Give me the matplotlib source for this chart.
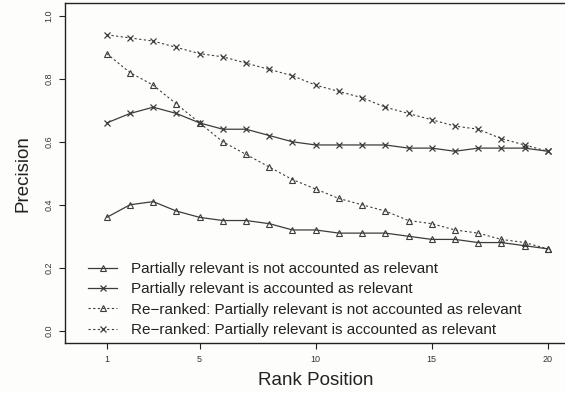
import matplotlib
matplotlib.use('Agg')
import matplotlib.pyplot as plt

plt.rcParams['font.family'] = ['Liberation Sans', 'DejaVu Sans']

# Precision at each rank position (1..20)
rank = list(range(1, 21))
not_acc = [0.36, 0.40, 0.41, 0.38, 0.36, 0.35, 0.35, 0.34, 0.32, 0.32,
           0.31, 0.31, 0.31, 0.30, 0.29, 0.29, 0.28, 0.28, 0.27, 0.26]
acc = [0.66, 0.69, 0.71, 0.69, 0.66, 0.64, 0.64, 0.62, 0.60, 0.59,
       0.59, 0.59, 0.59, 0.58, 0.58, 0.57, 0.58, 0.58, 0.58, 0.57]
rr_not_acc = [0.88, 0.82, 0.78, 0.72, 0.66, 0.60, 0.56, 0.52, 0.48, 0.45,
              0.42, 0.40, 0.38, 0.35, 0.34, 0.32, 0.31, 0.29, 0.28, 0.26]
rr_acc = [0.94, 0.93, 0.92, 0.90, 0.88, 0.87, 0.85, 0.83, 0.81, 0.78,
          0.76, 0.74, 0.71, 0.69, 0.67, 0.65, 0.64, 0.61, 0.59, 0.57]

labels = ['Partially relevant is not accounted as relevant',
          'Partially relevant is accounted as relevant',
          'Re\u2212ranked: Partially relevant is not accounted as relevant',
          'Re\u2212ranked: Partially relevant is accounted as relevant']
xticks = [1, 5, 10, 15, 20]
yticks = [0.0, 0.2, 0.4, 0.6, 0.8, 1.0]

col = '#3c3c3c'
fig = plt.figure(figsize=(5.65, 3.93), dpi=100, facecolor='#fdfefc')
ax = fig.add_axes([65 / 565, 1 - 343.3 / 393, (566.4 - 65) / 565, 340 / 393])
ax.set_facecolor('#fdfefc')

dash = (0, (2.0, 2.2))
ax.plot(rank, not_acc, color=col, lw=0.9, marker='^', ms=5, mfc='none', mec=col, mew=0.8, label=labels[0])
ax.plot(rank, acc, color=col, lw=0.9, marker='x', ms=4.5, mec=col, mew=0.9, label=labels[1])
ax.plot(rank, rr_not_acc, color=col, lw=0.8, ls=dash, marker='^', ms=5, mfc='none', mec=col, mew=0.8, label=labels[2])
ax.plot(rank, rr_acc, color=col, lw=0.8, ls=dash, marker='x', ms=4.5, mec=col, mew=0.9, label=labels[3])

ax.set_xlim(-0.8, 20.8)
ax.set_ylim(-0.04, 1.04)
ax.set_xticks(xticks)
ax.set_xticklabels([str(t) for t in xticks])
ax.set_yticks(yticks)
ax.set_yticklabels(['%.1f' % t for t in yticks], rotation=90, va='center')
ax.tick_params(length=4.5, width=0.8, color='#222222', labelsize=6.5, labelcolor='#333333', pad=4)
ax.spines['right'].set_visible(False)
for s in ['left', 'top', 'bottom']:
    ax.spines[s].set_color('#222222')
    ax.spines[s].set_linewidth(1)

ax.set_xlabel('Rank Position', fontsize=13.5, color='#222222', labelpad=6)
ax.set_ylabel('Precision', fontsize=13.5, color='#222222', labelpad=9)

ax.legend(loc='upper left', bbox_to_anchor=(88 / 565, 1 - 262 / 393),
          bbox_transform=fig.transFigure, frameon=False, fontsize=11,
          handlelength=1.9, handletextpad=0.9, labelspacing=0.42,
          borderpad=0, borderaxespad=0, labelcolor='#222222')

fig.savefig('out.png', dpi=100, facecolor=fig.get_facecolor())
